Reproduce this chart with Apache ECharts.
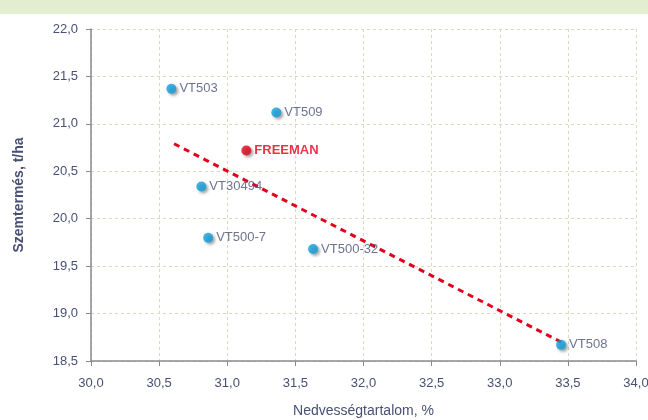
<!DOCTYPE html>
<html>
<head>
<meta charset="utf-8">
<script src="https://cdn.jsdelivr.net/npm/echarts@6/dist/echarts.min.js"></script>
<style>
  html, body { margin: 0; padding: 0; background: #fff; }
  #band { position: absolute; left: 0; top: 0; width: 648px; height: 14px; background: #e3edd0; }
  #chart { position: absolute; left: 0; top: 0; width: 648px; height: 420px; }
</style>
</head>
<body>
<div id="band"></div>
<div id="chart"></div>
<script>
// hibridek: nedvesség (%) és szemtermés (t/ha)
const hybrids = ['VT503', 'VT509', 'FREEMAN', 'VT30494', 'VT500-7', 'VT500-32', 'VT508'];
const moisture = [30.59, 31.36, 31.14, 30.81, 30.86, 31.63, 33.45];
const yieldT = [21.37, 21.12, 20.72, 20.34, 19.80, 19.68, 18.67];
// trendvonal végpontjai
const trendX = [30.61, 33.45];
const trendY = [20.79, 18.70];

const textColor = '#485073';
const fmt = v => v.toFixed(1).replace('.', ',');

const points = hybrids.map((h, i) => {
  const own = h === 'FREEMAN';
  return {
    name: h,
    value: [moisture[i], yieldT[i]],
    itemStyle: { color: own ? '#e2001a' : '#0f9fdc' },
    label: own ? { color: '#e2001a', fontWeight: 'bold' } : {}
  };
});

const chart = echarts.init(document.getElementById('chart'));
chart.setOption({
  animation: false,
  grid: { left: 91, right: 12, top: 29, bottom: 59, outerBoundsMode: 'none', containLabel: false },
  xAxis: {
    type: 'value', min: 30, max: 34, interval: 0.5,
    name: 'Nedvességtartalom, %', nameLocation: 'middle', nameGap: 43,
    nameTextStyle: { color: textColor, fontSize: 14, fontFamily: 'Liberation Sans' },
    axisLine: { show: true, lineStyle: { color: '#8a8a8a', width: 1.5 } },
    axisTick: { show: true, length: 5, lineStyle: { color: '#8a8a8a' } },
    axisLabel: { color: textColor, fontSize: 13, margin: 16, formatter: fmt, fontFamily: 'Liberation Sans' },
    splitLine: { show: true, lineStyle: { color: '#dcd9c0', type: [3, 3] } }
  },
  yAxis: {
    type: 'value', min: 18.5, max: 22, interval: 0.5,
    name: 'Szemtermés, t/ha', nameLocation: 'middle', nameGap: 65,
    nameTextStyle: { color: textColor, fontSize: 14, fontWeight: 'bold', fontFamily: 'Liberation Sans' },
    axisLine: { show: true, lineStyle: { color: '#8a8a8a', width: 1.5 } },
    axisTick: { show: true, length: 5, lineStyle: { color: '#8a8a8a' } },
    axisLabel: { color: textColor, fontSize: 13, margin: 13, formatter: fmt, fontFamily: 'Liberation Sans' },
    splitLine: { show: true, lineStyle: { color: '#dcd9c0', type: [3, 3] } }
  },
  series: [
    {
      type: 'line',
      data: trendX.map((x, i) => [x, trendY[i]]),
      symbol: 'none',
      lineStyle: { color: '#e2001a', width: 3, type: [6, 5] },
      z: 2
    },
    {
      type: 'scatter',
      data: points,
      symbolSize: 10,
      itemStyle: { shadowColor: 'rgba(0,0,0,0.45)', shadowBlur: 3, shadowOffsetX: 2, shadowOffsetY: 2 },
      label: {
        show: true, position: 'right', distance: 3,
        formatter: p => p.name,
        color: textColor, fontSize: 13, fontFamily: 'Liberation Sans'
      },
      z: 3
    }
  ]
});
</script>
</body>
</html>
